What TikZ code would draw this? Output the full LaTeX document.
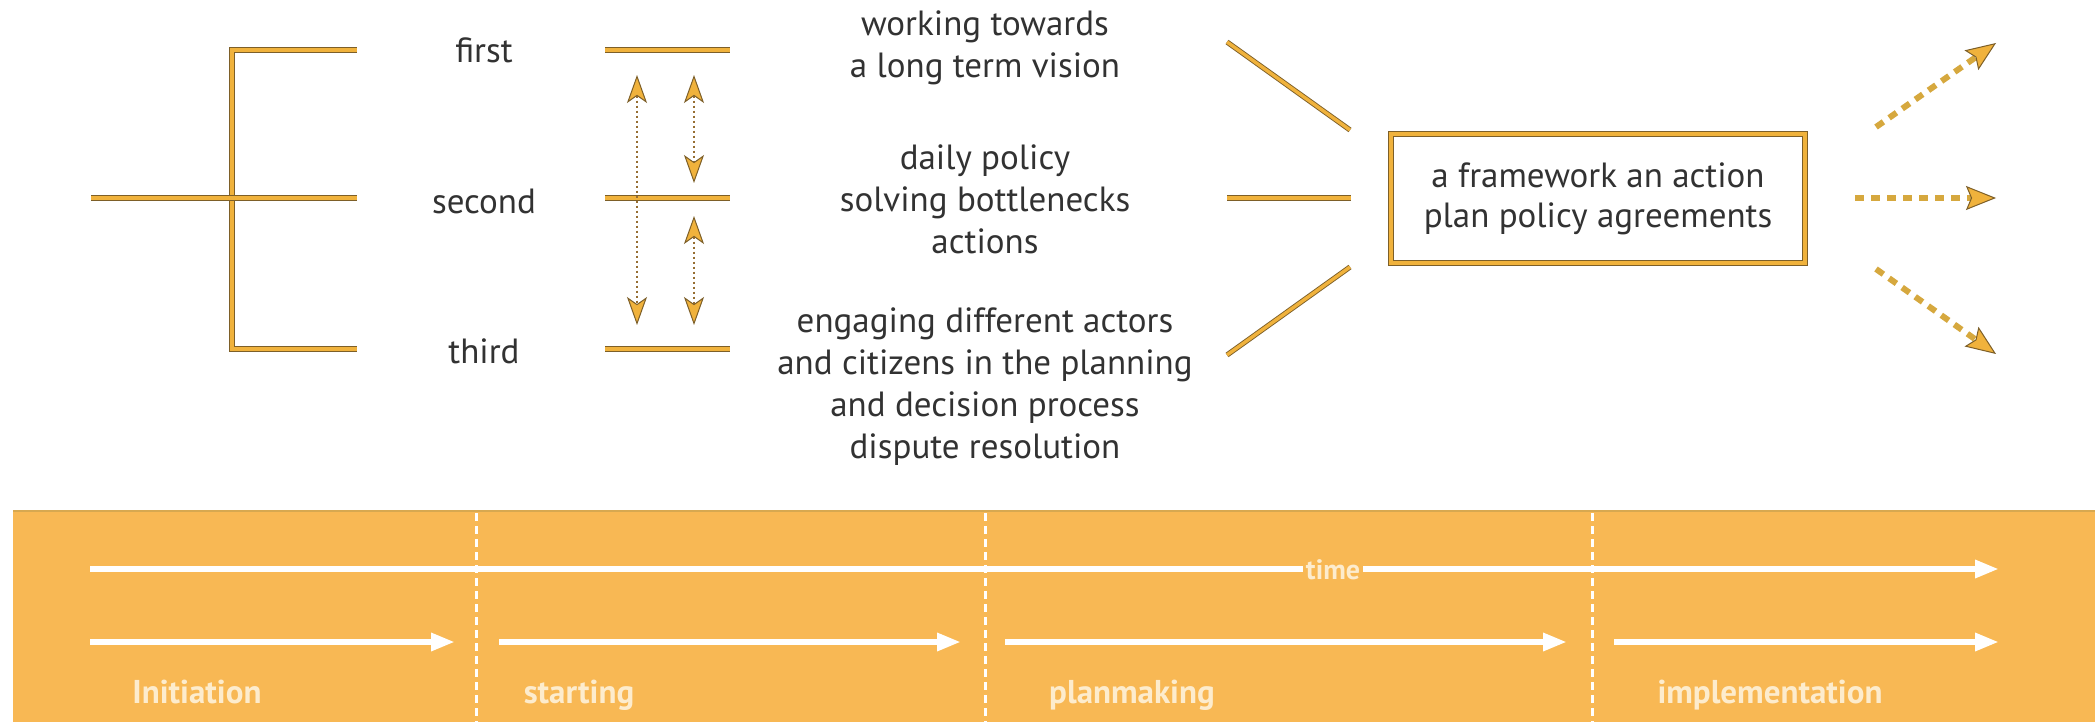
\documentclass[tikz,border=0pt]{standalone}
\usepackage{fontspec}
\setmainfont{PT Sans}
\usetikzlibrary{arrows.meta}
\definecolor{ink}{RGB}{50,50,50}
\definecolor{lineor}{RGB}{240,178,60}
\definecolor{linedk}{RGB}{125,95,40}
\definecolor{bandcol}{RGB}{248,184,84}
\definecolor{bandedge}{RGB}{215,168,80}
\definecolor{bandtxt}{RGB}{253,236,205}
\definecolor{dotcol}{RGB}{150,110,50}
\definecolor{dashcol}{RGB}{214,168,62}
\begin{document}
\begin{tikzpicture}[x=1pt,y=-1pt,
  bar/.style={draw=linedk, line width=0.9pt, double=lineor, double distance=3.4pt},
  lbl/.style={font=\fontsize{35}{42}\selectfont, text=ink, inner sep=0pt, anchor=base},
  txt/.style={lbl, align=center},
  varrow/.style={draw=dotcol, line width=2pt, dash pattern=on 2.5pt off 2.5pt,
    >={Stealth[length=28pt,width=20pt,inset=7pt,fill=lineor,color=linedk,line width=1pt]}, <->},
  oarrow/.style={draw=dashcol, line width=6pt, dash pattern=on 9pt off 7pt,
    >={Stealth[length=30pt,width=24pt,inset=5pt,fill=lineor,color=linedk,line width=1pt]}, ->},
  warrow/.style={draw=white, line width=6pt, >={Triangle[length=24pt,width=17pt]}, ->},
  sepline/.style={draw=white, line width=3pt, dash pattern=on 8pt off 5pt},
  phase/.style={font=\fontsize{33}{38}\selectfont\bfseries, text=bandtxt, inner sep=0pt, anchor=base},
  framebox/.style={draw=linedk, line width=1pt, double=lineor, double distance=4pt,
    minimum width=414pt, minimum height=129pt, inner sep=0pt, align=center,
    font=\fontsize{35}{40}\selectfont, text=ink, fill=white}
]
\useasboundingbox (0,0) rectangle (2095,722);
\fill[white] (0,0) rectangle (2095,722);

% left bracket
\coordinate (eTr) at (357,50);
\coordinate (eT) at (232,50);
\coordinate (eB) at (232,349);
\coordinate (eBr) at (357,349);
\coordinate (eMl) at (91,198);
\coordinate (eMr) at (357,198);
\draw[bar] (eTr) -- (eT) -- (eB) -- (eBr);
\draw[bar] (eMl) -- (eMr);

% labels
\node[lbl] (first) at (484,63) {first};
\node[lbl] (second) at (484,213) {second};
\node[lbl] (third) at (484,363) {third};

% right short lines
\coordinate (r1a) at (605,50);  \coordinate (r1b) at (730,50);
\coordinate (r2a) at (605,198); \coordinate (r2b) at (730,198);
\coordinate (r3a) at (605,349); \coordinate (r3b) at (730,349);
\draw[bar] (r1a) -- (r1b);
\draw[bar] (r2a) -- (r2b);
\draw[bar] (r3a) -- (r3b);

% vertical dotted arrows
\coordinate (a1t) at (637,75);  \coordinate (a1b) at (637,325);
\coordinate (a2t) at (694,75);  \coordinate (a2b) at (694,183);
\coordinate (a3t) at (694,216); \coordinate (a3b) at (694,325);
\draw[varrow] (a1t) -- (a1b);
\draw[varrow] (a2t) -- (a2b);
\draw[varrow] (a3t) -- (a3b);

% middle texts (base anchor = last line baseline)
\node[txt] (vision) at (985,78) {working towards\\a long term vision};
\node[txt] (daily) at (985,253) {daily policy\\solving bottlenecks\\actions};
\node[txt] (engage) at (985,458) {engaging different actors\\and citizens in the planning\\and decision process\\dispute resolution};

% converging lines
\coordinate (c1a) at (1227,42);  \coordinate (c1b) at (1350,130);
\coordinate (c2a) at (1227,198); \coordinate (c2b) at (1351,198);
\coordinate (c3a) at (1227,355); \coordinate (c3b) at (1350,267);
\draw[bar] (c1a) -- (c1b);
\draw[bar] (c2a) -- (c2b);
\draw[bar] (c3a) -- (c3b);

% framework box
\node[framebox] (frame) at (1598,198.5) {a framework an action\\plan policy agreements};

% outgoing arrows
\coordinate (o1a) at (1876,127); \coordinate (o1b) at (1996,43);
\coordinate (o2a) at (1855,198); \coordinate (o2b) at (1996,198);
\coordinate (o3a) at (1876,269); \coordinate (o3b) at (1996,354);
\draw[oarrow] (o1a) -- (o1b);
\draw[oarrow] (o2a) -- (o2b);
\draw[oarrow] (o3a) -- (o3b);

% time band
\fill[bandcol] (13,511) rectangle (2095,722);
\draw[bandedge, line width=1.5pt] (13,511) -- (2095,511);

\coordinate (s1t) at (476,513);  \coordinate (s1b) at (476,722);
\coordinate (s2t) at (985,513);  \coordinate (s2b) at (985,722);
\coordinate (s3t) at (1592,513); \coordinate (s3b) at (1592,722);
\draw[sepline] (s1t) -- (s1b);
\draw[sepline] (s2t) -- (s2b);
\draw[sepline] (s3t) -- (s3b);

\coordinate (t0) at (90,569); \coordinate (t1) at (1999,569);
\draw[warrow] (t0) -- (t1);
\node[fill=bandcol, font=\fontsize{28}{32}\selectfont\bfseries, text=bandtxt, inner xsep=3pt, inner ysep=1pt] (time) at (1333,570) {time};

\coordinate (p1a) at (90,642);   \coordinate (p1b) at (455,642);
\coordinate (p2a) at (499,642);  \coordinate (p2b) at (961,642);
\coordinate (p3a) at (1005,642); \coordinate (p3b) at (1567,642);
\coordinate (p4a) at (1614,642); \coordinate (p4b) at (1999,642);
\draw[warrow] (p1a) -- (p1b);
\draw[warrow] (p2a) -- (p2b);
\draw[warrow] (p3a) -- (p3b);
\draw[warrow] (p4a) -- (p4b);

\node[phase] (init) at (197,703) {Initiation};
\node[phase] (start) at (579,703) {starting};
\node[phase] (plan) at (1132,703) {planmaking};
\node[phase] (impl) at (1770,703) {implementation};
\end{tikzpicture}
\end{document}
